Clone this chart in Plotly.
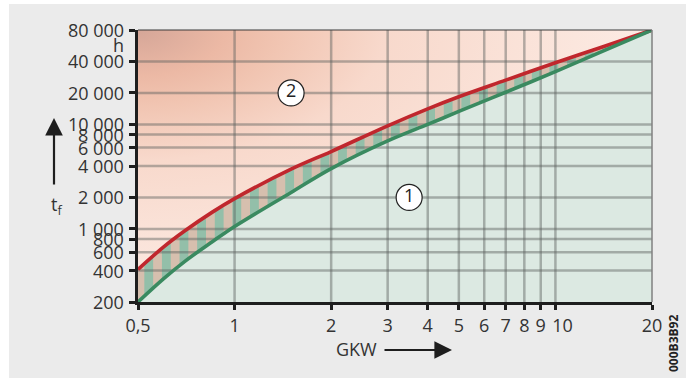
import base64
import numpy as np
import plotly.graph_objects as go

# ---------------- data ----------------
gkw = [0.5, 0.6, 0.7, 0.85, 1, 1.5, 2, 3, 4, 5, 7, 10, 14, 20]
tf_curve1 = [200, 333, 490, 750, 1055, 2235, 3780, 6950, 10000, 13300, 20300, 32000, 50000, 80000]   # green (1)
tf_curve2 = [410, 670, 960, 1440, 1950, 3730, 5500, 9700, 14100, 18400, 26500, 38900, 55000, 80000]  # red (2)

x_tickvals = [0.5, 1, 2, 3, 4, 5, 6, 7, 8, 9, 10, 20]
x_ticktext = ["0,5", "1", "2", "3", "4", "5", "6", "7", "8", "9", "\u00a0\u00a0\u00a010", "20"]
y_tickvals = [200, 400, 600, 800, 1000, 2000, 4000, 6000, 8000, 10000, 20000, 40000, 80000]
y_ticktext = ["200", "400", "600", "800", "1 000", "2 000", "4 000", "6 000", "8 000",
              "10 000", "20 000", "40 000", "80 000"]
x_grid = [1, 2, 3, 4, 5, 6, 7, 8, 9, 10]
y_grid = [400, 600, 800, 1000, 2000, 4000, 6000, 8000, 10000, 20000, 40000]
region_labels = ["1", "2"]
region_label_x = [3.5, 1.5]
region_label_y = [2000, 20000]

X_MIN, X_MAX = 0.5, 20
Y_MIN, Y_MAX = 200, 80000

# ---------------- geometry helpers ----------------
W, H = 686, 378
L, R, T, B = 138, 34, 30, 76
PW, PH = W - L - R, H - T - B


def px(xp):
    return (xp - L) / PW


def py(yp):
    return (H - B - yp) / PH


lx = np.log10(gkw)


def curve(vals, xq):
    return 10 ** np.interp(np.log10(xq), lx, np.log10(vals))


xd = np.logspace(np.log10(X_MIN), np.log10(X_MAX), 400)
g_d = curve(tf_curve1, xd)
r_d = curve(tf_curve2, xd)

# stripes between the curves (constant width in log space)
period, offset, width = 0.0549, 0.0197, 0.0275
sx, sy = [], []
s = np.log10(X_MIN) + offset
while s < np.log10(X_MAX):
    e = min(s + width, np.log10(X_MAX))
    xs = np.logspace(s, e, 8)
    sx += list(xs) + list(xs[::-1]) + [xs[0], None]
    sy += list(curve(tf_curve2, xs)) + list(curve(tf_curve1, xs[::-1])) + [curve(tf_curve2, xs[:1])[0], None]
    s += period

# grid
gx, gy = [], []
for v in x_grid:
    gx += [v, v, None]
    gy += [Y_MIN, Y_MAX, None]
for v in y_grid:
    gx += [X_MIN, X_MAX, None]
    gy += [v, v, None]

fig = go.Figure()

fig.add_trace(go.Scatter(x=list(xd) + list(xd[::-1]), y=list(r_d) + list(g_d[::-1]),
                         fill="toself", fillcolor="#d6bfae", mode="none", hoverinfo="skip"))
fig.add_trace(go.Scatter(x=sx, y=sy, fill="toself", fillcolor="#93bfa9", mode="none",
                         hoverinfo="skip"))
fig.add_trace(go.Scatter(x=list(xd) + [X_MAX, X_MIN], y=list(g_d) + [Y_MIN, Y_MIN],
                         fill="toself", fillcolor="#dce9e2", mode="none", hoverinfo="skip"))
fig.add_trace(go.Scatter(x=gx, y=gy, mode="lines", line=dict(color="rgba(90,96,94,0.45)", width=2.5),
                         hoverinfo="skip"))
fig.add_trace(go.Scatter(x=gkw, y=tf_curve2, mode="lines", line=dict(color="#c0272d", width=3.6, shape="spline"),
                         hoverinfo="skip"))
fig.add_trace(go.Scatter(x=gkw, y=tf_curve1, mode="lines", line=dict(color="#3a8a60", width=3.6, shape="spline"),
                         hoverinfo="skip"))
fig.add_trace(go.Scatter(x=region_label_x, y=region_label_y, mode="markers+text", text=region_labels,
                         textposition="middle center",
                         textfont=dict(size=18, color="#222222", family="Open Sans"),
                         marker=dict(size=26, color="white", line=dict(color="#222222", width=1.2)),
                         hoverinfo="skip"))

svg = ("<svg xmlns='http://www.w3.org/2000/svg' width='514' height='272' viewBox='0 0 514 272' "
       "preserveAspectRatio='none'><defs><radialGradient id='g' cx='0' cy='0' r='1' "
       "gradientUnits='objectBoundingBox'>"
       "<stop offset='0' stop-color='#d5a698'/>"
       "<stop offset='0.17' stop-color='#ecb9a5'/>"
       "<stop offset='0.28' stop-color='#f1c5b2'/>"
       "<stop offset='0.48' stop-color='#f8d9cc'/>"
       "<stop offset='0.85' stop-color='#fbe6dd'/>"
       "<stop offset='1' stop-color='#fcebe4'/>"
       "</radialGradient></defs><rect width='514' height='272' fill='url(#g)'/></svg>")
src = "data:image/svg+xml;base64," + base64.b64encode(svg.encode()).decode()

# y tick labels placed as text right-aligned next to the tick marks
ylabel_annotations = [
    dict(text=t, xref="paper", yref="y", x=px(126), y=float(np.log10(v)), xanchor="right",
         yanchor="middle", showarrow=False, font=dict(size=18, color="#333333"))
    for v, t in zip(y_tickvals, y_ticktext)
]

fig.update_layout(
    width=W, height=H,
    margin=dict(l=L, r=R, t=T, b=B, pad=0, autoexpand=False),
    paper_bgcolor="#ebebeb",
    plot_bgcolor="#fbe6dd",
    showlegend=False,
    font=dict(family="Open Sans", size=18, color="#333333"),
    images=[dict(source=src, xref="paper", yref="paper", x=0, y=1, sizex=1, sizey=1,
                 xanchor="left", yanchor="top", sizing="stretch", layer="below")],
    xaxis=dict(type="log", range=[np.log10(X_MIN), np.log10(X_MAX)], tickvals=x_tickvals,
               ticktext=x_ticktext, tickangle=0, automargin=False, showgrid=False, zeroline=False,
               showline=True, linecolor="#1e1e1e", linewidth=3, ticks="outside", ticklen=5,
               tickwidth=2.5, tickcolor="#1e1e1e", tickfont=dict(size=18, color="#333333")),
    yaxis=dict(type="log", range=[np.log10(Y_MIN), np.log10(Y_MAX)], tickvals=y_tickvals,
               showticklabels=False, automargin=False, showgrid=False, zeroline=False, showline=True,
               linecolor="#1e1e1e", linewidth=3, ticks="outside", ticklen=6, tickwidth=2.5,
               tickcolor="#1e1e1e"),
    shapes=[
        dict(type="rect", xref="paper", yref="paper", x0=px(0), x1=px(9), y0=py(H), y1=py(0),
             fillcolor="white", line=dict(width=0), layer="below"),
        dict(type="rect", xref="paper", yref="paper", x0=px(0), x1=px(W), y0=py(4), y1=py(0),
             fillcolor="white", line=dict(width=0), layer="below"),
        dict(type="line", xref="paper", yref="paper", x0=0, x1=1, y0=1, y1=1,
             line=dict(color="#3a3a3a", width=1.2), layer="above"),
        dict(type="line", xref="paper", yref="paper", x0=1, x1=1, y0=0, y1=1,
             line=dict(color="#808080", width=1.5), layer="above"),
    ],
    annotations=ylabel_annotations + [
        dict(text="h", xref="paper", yref="paper", x=px(126), y=py(45), xanchor="right",
             yanchor="middle", showarrow=False, font=dict(size=18, color="#333333")),
        dict(text="t<sub>f</sub>", xref="paper", yref="paper", x=px(56), y=py(206), xanchor="center",
             yanchor="middle", showarrow=False, font=dict(size=18, color="#333333")),
        dict(text="", xref="paper", yref="paper", x=px(54), y=py(118), ax=0, ay=68,
             showarrow=True, arrowhead=2, arrowsize=1.6, arrowwidth=2.2, arrowcolor="#1e1e1e"),
        dict(text="GKW", xref="paper", yref="paper", x=px(356), y=py(349), xanchor="center",
             yanchor="middle", showarrow=False, font=dict(size=18, color="#333333")),
        dict(text="", xref="paper", yref="paper", x=px(452), y=py(350), ax=-69, ay=0,
             showarrow=True, arrowhead=2, arrowsize=1.6, arrowwidth=2.2, arrowcolor="#1e1e1e"),
        dict(text="<b>000B3B92</b>", xref="paper", yref="paper", x=px(673), y=py(344),
             xanchor="center", yanchor="middle", textangle=-90, showarrow=False,
             font=dict(size=12, color="#222222")),
    ],
)

fig.write_html("out.html", config={"displayModeBar": False},
               post_script="document.body.style.margin='0';")
